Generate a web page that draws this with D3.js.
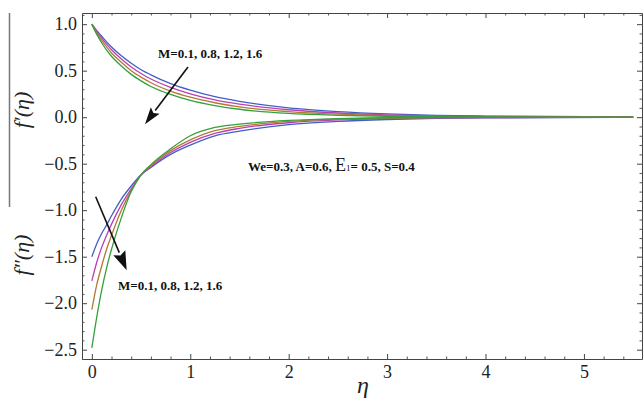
<!DOCTYPE html>
<html>
<head>
<meta charset="utf-8">
<script src="https://cdn.jsdelivr.net/npm/d3@7"></script>
<style>
  body { margin: 0; background: white; }
  svg { display: block; }
</style>
</head>
<body>
<script>
'use strict';

// eta grid shared by every profile
const eta = [0, 0.05, 0.1, 0.15, 0.2, 0.3, 0.4, 0.5, 0.6, 0.8, 1.0, 1.25, 1.5, 2.0, 2.5, 3.0, 3.5, 4.0, 5.5];

const mValues = ['0.1', '0.8', '1.2', '1.6'];
const lineColors = ['#3f5fc4', '#bb3fb4', '#b27a34', '#35a03c'];

// f'(eta) for M = 0.1, 0.8, 1.2, 1.6
const fPrime01 = [1.0, 0.93, 0.87, 0.81, 0.755, 0.66, 0.58, 0.51, 0.455, 0.36, 0.29, 0.22, 0.17, 0.10, 0.06, 0.035, 0.02, 0.012, 0.002];
const fPrime08 = [1.0, 0.92, 0.85, 0.785, 0.725, 0.625, 0.54, 0.47, 0.41, 0.32, 0.25, 0.185, 0.14, 0.08, 0.045, 0.025, 0.014, 0.008, 0.001];
const fPrime12 = [1.0, 0.905, 0.825, 0.755, 0.69, 0.59, 0.50, 0.43, 0.37, 0.28, 0.215, 0.155, 0.11, 0.06, 0.032, 0.017, 0.009, 0.005, 0.0];
const fPrime16 = [1.0, 0.89, 0.80, 0.72, 0.655, 0.55, 0.46, 0.39, 0.33, 0.245, 0.18, 0.125, 0.085, 0.04, 0.02, 0.01, 0.005, 0.002, 0.0];

// f''(eta) for the same M values
const fDouble01 = [-1.50, -1.36, -1.25, -1.16, -1.06, -0.88, -0.74, -0.62, -0.54, -0.40, -0.30, -0.20, -0.15, -0.08, -0.045, -0.025, -0.013, -0.007, -0.001];
const fDouble08 = [-1.76, -1.56, -1.40, -1.27, -1.15, -0.94, -0.77, -0.62, -0.53, -0.38, -0.27, -0.175, -0.12, -0.06, -0.03, -0.016, -0.008, -0.004, 0.0];
const fDouble12 = [-2.07, -1.80, -1.60, -1.42, -1.27, -1.00, -0.79, -0.62, -0.52, -0.36, -0.245, -0.145, -0.10, -0.045, -0.02, -0.01, -0.005, -0.002, 0.0];
const fDouble16 = [-2.48, -2.15, -1.86, -1.62, -1.42, -1.08, -0.80, -0.62, -0.51, -0.34, -0.20, -0.11, -0.075, -0.035, -0.015, -0.006, -0.003, -0.001, 0.0];

const xMajor = [0, 1, 2, 3, 4, 5];
const yMajor = [1.0, 0.5, 0.0, -0.5, -1.0, -1.5, -2.0, -2.5];

(function() {

  const width = 643;
  const height = 401;
  const plot = { left: 82, top: 13, right: 642, bottom: 359 };

  const svg = d3.select('body').append('svg')
    .attr('width', width)
    .attr('height', height)
    .style('font-family', '"Liberation Serif", "DejaVu Serif", serif');

  const x = d3.scaleLinear().domain([-0.1, 5.59]).range([plot.left, plot.right]);
  const y = d3.scaleLinear().domain([-2.6, 1.12]).range([plot.bottom, plot.top]);

  drawFrame();
  drawCurves();
  drawNotes();
  drawLabels();

  // frame with inward major and minor ticks on all four sides
  function drawFrame() {
    const xMinor = d3.range(-0.0, 5.6, 0.2).filter(v => Math.abs(v - Math.round(v)) > 1e-6);
    const yMinor = d3.range(-2.6, 1.12, 0.1).filter(v => Math.abs(v * 2 - Math.round(v * 2)) > 1e-6);

    const axes = [
      { make: d3.axisBottom, scale: x, at: `translate(0,${plot.bottom})`, major: xMajor, minor: xMinor, labels: true },
      { make: d3.axisTop, scale: x, at: `translate(0,${plot.top})`, major: xMajor, minor: xMinor, labels: false },
      { make: d3.axisLeft, scale: y, at: `translate(${plot.left},0)`, major: yMajor, minor: yMinor, labels: true },
      { make: d3.axisRight, scale: y, at: `translate(${plot.right},0)`, major: yMajor, minor: yMinor, labels: false }
    ];

    axes.forEach(a => {
      const vertical = a.make === d3.axisLeft || a.make === d3.axisRight;

      svg.append('g')
        .attr('transform', a.at)
        .call(a.make(a.scale).tickValues(a.minor).tickSize(-2.5).tickSizeOuter(0).tickFormat(''))
        .call(g => g.select('.domain').remove())
        .selectAll('line').attr('stroke', '#555');

      const g = svg.append('g')
        .attr('transform', a.at)
        .call(a.make(a.scale)
          .tickValues(a.major)
          .tickSize(-5)
          .tickSizeOuter(0)
          .tickPadding(vertical ? 5 : 6)
          .tickFormat(a.labels ? (vertical ? d3.format('.1f') : d3.format('d')) : ''));

      g.select('.domain').attr('stroke', '#444').attr('stroke-width', 1);
      g.selectAll('line').attr('stroke', '#444');
      g.selectAll('text')
        .attr('fill', '#222')
        .style('font-size', '18px')
        .style('font-family', '"Liberation Serif", serif');
    });

    // thin rule left of the upper axis title
    svg.append('line')
      .attr('x1', 9.5).attr('x2', 9.5)
      .attr('y1', plot.top).attr('y2', 207)
      .attr('stroke', '#777')
      .attr('stroke-width', 1.5);
  }

  function drawCurves() {
    const line = d3.line()
      .x(d => x(d.eta))
      .y(d => y(d.v))
      .curve(d3.curveMonotoneX);

    const upper = [fPrime01, fPrime08, fPrime12, fPrime16];
    const lower = [fDouble01, fDouble08, fDouble12, fDouble16];

    [upper, lower].forEach(group => {
      group.forEach((vals, i) => {
        svg.append('path')
          .datum(eta.map((e, k) => ({ eta: e, v: vals[k] })))
          .attr('d', line)
          .attr('fill', 'none')
          .attr('stroke', lineColors[i])
          .attr('stroke-width', 1.3);
      });
    });
  }

  // arrow from (x0,y0) to (x1,y1) in data units, with a filled head
  function arrow(x0, y0, x1, y1, headLen, headWid) {
    const ax = x(x0), ay = y(y0), bx = x(x1), by = y(y1);
    const ang = Math.atan2(by - ay, bx - ax);
    const cx = bx - headLen * Math.cos(ang);
    const cy = by - headLen * Math.sin(ang);
    const nx = -Math.sin(ang) * headWid / 2;
    const ny = Math.cos(ang) * headWid / 2;

    svg.append('line')
      .attr('x1', ax).attr('y1', ay)
      .attr('x2', cx).attr('y2', cy)
      .attr('stroke', '#111')
      .attr('stroke-width', 1.6);

    svg.append('path')
      .attr('d', `M${bx},${by}L${cx + nx},${cy + ny}L${cx + 3 * Math.cos(ang)},${cy + 3 * Math.sin(ang)}L${cx - nx},${cy - ny}Z`)
      .attr('fill', '#111');
  }

  function drawNotes() {
    const mText = 'M=' + mValues.join(', ');

    arrow(0.977, 0.54, 0.54, -0.075, 17, 11);
    arrow(0.039, -0.855, 0.354, -1.645, 19, 13);

    svg.append('text')
      .attr('x', 158).attr('y', 58)
      .style('font-size', '13px')
      .style('font-weight', 'bold')
      .attr('fill', '#111')
      .text(mText);

    svg.append('text')
      .attr('x', 118).attr('y', 290)
      .style('font-size', '13px')
      .style('font-weight', 'bold')
      .attr('fill', '#111')
      .text(mText);

    const params = svg.append('text')
      .attr('x', 248).attr('y', 171)
      .attr('fill', '#111')
      .style('font-size', '13px')
      .style('font-weight', 'bold');
    params.append('tspan').text('We=0.3, A=0.6, ');
    params.append('tspan').style('font-size', '18px').style('font-weight', 'normal').text('E');
    params.append('tspan').style('font-size', '9px').style('font-weight', 'normal').text('1');
    params.append('tspan').text('= 0.5, S=0.4');
  }

  function drawLabels() {
    svg.append('text')
      .attr('x', 363).attr('y', 393)
      .attr('text-anchor', 'middle')
      .style('font-size', '24px')
      .style('font-style', 'italic')
      .attr('fill', '#222')
      .text('η');

    svg.append('text')
      .attr('transform', 'translate(29,110)rotate(-90)')
      .attr('text-anchor', 'middle')
      .style('font-size', '22px')
      .style('font-style', 'italic')
      .attr('fill', '#222')
      .text('f′(η)');

    svg.append('text')
      .attr('transform', 'translate(29,255)rotate(-90)')
      .attr('text-anchor', 'middle')
      .style('font-size', '22px')
      .style('font-style', 'italic')
      .attr('fill', '#222')
      .text('f″(η)');
  }

})();
</script>
</body>
</html>
